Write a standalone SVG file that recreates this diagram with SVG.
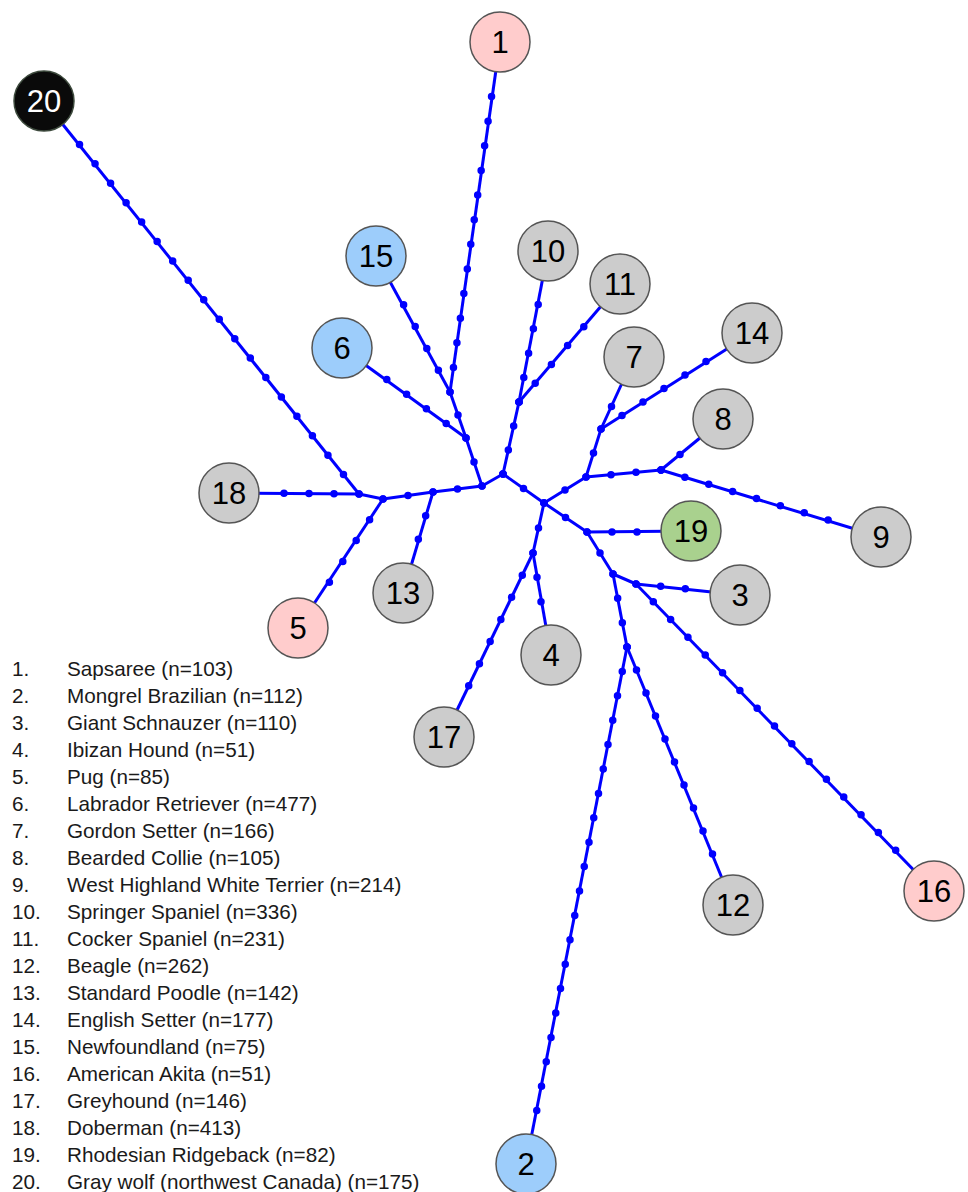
<svg xmlns="http://www.w3.org/2000/svg" width="968" height="1192" viewBox="0 0 968 1192">
<style>
.e{fill:none;stroke:#0000ff;stroke-width:3}
.d{fill:none;stroke:#0000ff;stroke-width:7.5;stroke-linecap:round;stroke-dasharray:0 1}
.n circle{stroke:#555;stroke-width:1.5}
.n text{font-family:"Liberation Sans",Arial,sans-serif;font-size:31px;text-anchor:middle;fill:#000}
.pink{fill:#ffcccc}.blue{fill:#9dcdfb}.grey{fill:#cccccc}.green{fill:#a9d18e}.black{fill:#0a0a0a}
.lg text{font-family:"Liberation Sans",Arial,sans-serif;font-size:20.7px;fill:#1a1a1a}
</style>
<rect width="968" height="1192" fill="#fff"/>
<g id="connectors">
<path class="e" d="M450,392L500,42"/>
<path class="e" d="M450,392L376,256"/>
<path class="e" d="M466,438L450,392"/>
<path class="e" d="M466,438L342,348"/>
<path class="e" d="M482,486L466,438"/>
<path class="e" d="M503,474L482,486"/>
<path class="e" d="M482,486L433,492"/>
<path class="e" d="M433,492L383,499"/>
<path class="e" d="M383,499L359,494"/>
<path class="e" d="M359,494L44,101"/>
<path class="e" d="M359,494L229,493"/>
<path class="e" d="M383,499L298,628"/>
<path class="e" d="M433,492L403,593"/>
<path class="e" d="M503,474L519,402"/>
<path class="e" d="M519,402L548,251"/>
<path class="e" d="M519,402L620,284"/>
<path class="e" d="M503,474L544,503"/>
<path class="e" d="M544,503L586,477"/>
<path class="e" d="M586,477L601,429"/>
<path class="e" d="M601,429L634,357"/>
<path class="e" d="M601,429L752,333"/>
<path class="e" d="M586,477L661,470"/>
<path class="e" d="M661,470L723,419"/>
<path class="e" d="M661,470L881,537"/>
<path class="e" d="M544,503L587,532"/>
<path class="e" d="M587,532L691,531"/>
<path class="e" d="M544,503L533,553"/>
<path class="e" d="M533,553L551,655"/>
<path class="e" d="M533,553L444,737"/>
<path class="e" d="M587,532L613,574"/>
<path class="e" d="M613,574L636,584"/>
<path class="e" d="M636,584L740,595"/>
<path class="e" d="M636,584L935,892"/>
<path class="e" d="M613,574L627,647"/>
<path class="e" d="M627,647L733,905"/>
<path class="e" d="M627,647L526,1164"/>
<path class="d" pathLength="12.5" d="M450,392L493.27,84.31"/>
<path class="d" pathLength="4.5" d="M450,392L397.8,293.9"/>
<path class="d" pathLength="2" d="M466,438L450,392"/>
<path class="d" pathLength="4.5" d="M466,438L376.9,372.3"/>
<path class="d" pathLength="2" d="M482,486L466,438"/>
<path class="d" pathLength="1" d="M503,474L482,486"/>
<path class="d" pathLength="2" d="M482,486L433,492"/>
<path class="d" pathLength="2" d="M433,492L383,499"/>
<path class="d" pathLength="1" d="M383,499L359,494"/>
<path class="d" pathLength="18.5" d="M359,494L71.76,134.71"/>
<path class="d" pathLength="3.5" d="M359,494L271.5,493.1"/>
<path class="d" pathLength="4.5" d="M383,499L322.7,592.6"/>
<path class="d" pathLength="2.5" d="M433,492L414.67,551.17"/>
<path class="d" pathLength="3" d="M503,474L519,402"/>
<path class="d" pathLength="4.5" d="M519,402L540.6,292.2"/>
<path class="d" pathLength="4.5" d="M519,402L591.9,317.4"/>
<path class="d" pathLength="2" d="M503,474L544,503"/>
<path class="d" pathLength="2" d="M544,503L586,477"/>
<path class="d" pathLength="2" d="M586,477L601,429"/>
<path class="d" pathLength="1.5" d="M601,429L616.75,395.25"/>
<path class="d" pathLength="5.5" d="M601,429L716.5,354.75"/>
<path class="d" pathLength="3" d="M586,477L661,470"/>
<path class="d" pathLength="1.5" d="M661,470L689.5,446.75"/>
<path class="d" pathLength="7.5" d="M661,470L840.06,523.44"/>
<path class="d" pathLength="2" d="M544,503L587,532"/>
<path class="d" pathLength="2.5" d="M587,532L649.5,532"/>
<path class="d" pathLength="2" d="M544,503L533,553"/>
<path class="d" pathLength="2.5" d="M533,553L543,613.83"/>
<path class="d" pathLength="6.5" d="M533,553L463.36,696.93"/>
<path class="d" pathLength="2" d="M587,532L613,574"/>
<path class="d" pathLength="1" d="M613,574L636,584"/>
<path class="d" pathLength="2.5" d="M636,584L697.67,589.83"/>
<path class="d" pathLength="15.5" d="M636,584L904.34,859.13"/>
<path class="d" pathLength="3" d="M613,574L627,647"/>
<path class="d" pathLength="9.5" d="M627,647L717.25,865.5"/>
<path class="d" pathLength="19.5" d="M627,647L534.38,1122.8"/>
</g>
<g id="node1" class="n"><circle class="pink" cx="500" cy="42" r="30"/><text x="500" y="53">1</text></g>
<g id="node2" class="n"><circle class="blue" cx="526" cy="1164" r="30"/><text x="526" y="1175">2</text></g>
<g id="node3" class="n"><circle class="grey" cx="740" cy="595" r="30"/><text x="740" y="606">3</text></g>
<g id="node4" class="n"><circle class="grey" cx="551" cy="655" r="30"/><text x="551" y="666">4</text></g>
<g id="node5" class="n"><circle class="pink" cx="298" cy="628" r="30"/><text x="298" y="639">5</text></g>
<g id="node6" class="n"><circle class="blue" cx="342" cy="348" r="30"/><text x="342" y="359">6</text></g>
<g id="node7" class="n"><circle class="grey" cx="634" cy="357" r="30"/><text x="634" y="368">7</text></g>
<g id="node8" class="n"><circle class="grey" cx="723" cy="419" r="30"/><text x="723" y="430">8</text></g>
<g id="node9" class="n"><circle class="grey" cx="881" cy="537" r="30"/><text x="881" y="548">9</text></g>
<g id="node10" class="n"><circle class="grey" cx="548" cy="251" r="30"/><text x="548" y="262">10</text></g>
<g id="node11" class="n"><circle class="grey" cx="620" cy="284" r="30"/><text x="620" y="295">11</text></g>
<g id="node12" class="n"><circle class="grey" cx="733" cy="905" r="30"/><text x="733" y="916">12</text></g>
<g id="node13" class="n"><circle class="grey" cx="403" cy="593" r="30"/><text x="403" y="604">13</text></g>
<g id="node14" class="n"><circle class="grey" cx="752" cy="333" r="30"/><text x="752" y="344">14</text></g>
<g id="node15" class="n"><circle class="blue" cx="376" cy="256" r="30"/><text x="376" y="267">15</text></g>
<g id="node16" class="n"><circle class="pink" cx="934" cy="891" r="30"/><text x="934" y="902">16</text></g>
<g id="node17" class="n"><circle class="grey" cx="444" cy="737" r="30"/><text x="444" y="748">17</text></g>
<g id="node18" class="n"><circle class="grey" cx="229" cy="493" r="30"/><text x="229" y="504">18</text></g>
<g id="node19" class="n"><circle class="green" cx="691" cy="531" r="30"/><text x="691" y="542">19</text></g>
<g id="node20" class="n"><circle class="black" cx="44" cy="101" r="30" style="stroke:#3d4a3d"/><text x="44" y="112" style="fill:#fff">20</text></g>
<g id="legend" class="lg">
<text x="12" y="675.5">1.</text><text x="67" y="675.5">Sapsaree (n=103)</text>
<text x="12" y="702.5">2.</text><text x="67" y="702.5">Mongrel Brazilian (n=112)</text>
<text x="12" y="729.5">3.</text><text x="67" y="729.5">Giant Schnauzer (n=110)</text>
<text x="12" y="756.5">4.</text><text x="67" y="756.5">Ibizan Hound (n=51)</text>
<text x="12" y="783.5">5.</text><text x="67" y="783.5">Pug (n=85)</text>
<text x="12" y="810.5">6.</text><text x="67" y="810.5">Labrador Retriever (n=477)</text>
<text x="12" y="837.5">7.</text><text x="67" y="837.5">Gordon Setter (n=166)</text>
<text x="12" y="864.5">8.</text><text x="67" y="864.5">Bearded Collie (n=105)</text>
<text x="12" y="891.5">9.</text><text x="67" y="891.5">West Highland White Terrier (n=214)</text>
<text x="12" y="918.5">10.</text><text x="67" y="918.5">Springer Spaniel (n=336)</text>
<text x="12" y="945.5">11.</text><text x="67" y="945.5">Cocker Spaniel (n=231)</text>
<text x="12" y="972.5">12.</text><text x="67" y="972.5">Beagle (n=262)</text>
<text x="12" y="999.5">13.</text><text x="67" y="999.5">Standard Poodle (n=142)</text>
<text x="12" y="1026.5">14.</text><text x="67" y="1026.5">English Setter (n=177)</text>
<text x="12" y="1053.5">15.</text><text x="67" y="1053.5">Newfoundland (n=75)</text>
<text x="12" y="1080.5">16.</text><text x="67" y="1080.5">American Akita (n=51)</text>
<text x="12" y="1107.5">17.</text><text x="67" y="1107.5">Greyhound (n=146)</text>
<text x="12" y="1134.5">18.</text><text x="67" y="1134.5">Doberman (n=413)</text>
<text x="12" y="1161.5">19.</text><text x="67" y="1161.5">Rhodesian Ridgeback (n=82)</text>
<text x="12" y="1188.5">20.</text><text x="67" y="1188.5">Gray wolf (northwest Canada) (n=175)</text>
</g>
</svg>
